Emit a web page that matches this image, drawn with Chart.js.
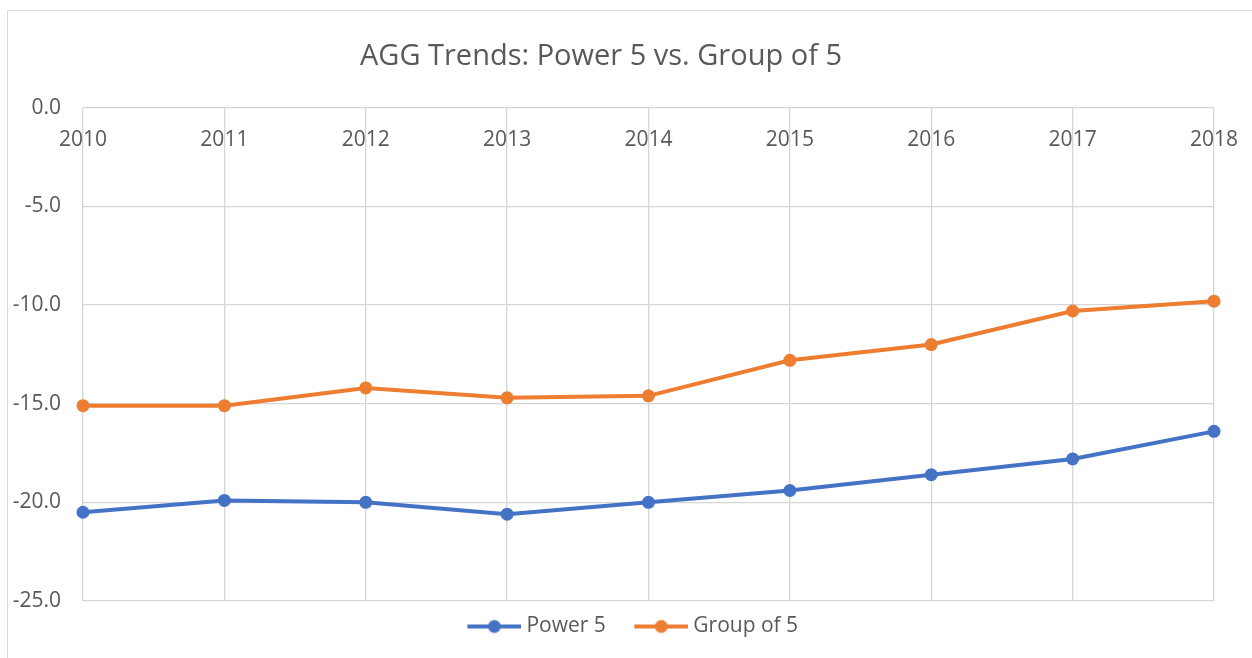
<!DOCTYPE html>
<html>
<head>
<meta charset="utf-8">
<script src="https://cdn.jsdelivr.net/npm/chart.js@4.4.0/dist/chart.umd.min.js"></script>
<style>
  html, body { margin: 0; padding: 0; background: #fff; overflow: hidden; }
  #frame { position: absolute; left: 7px; top: 10px; width: 1300px; height: 700px; border: 1px solid #d9d9d9; }
  #wrap { position: absolute; left: 0; top: 0; width: 1252px; height: 658px; }
</style>
</head>
<body>
<div id="frame"></div>
<div id="wrap"><canvas id="c" width="1252" height="658"></canvas></div>
<script>
const years = ['2010', '2011', '2012', '2013', '2014', '2015', '2016', '2017', '2018'];
const power5 = [-20.5, -19.9, -20.0, -20.6, -20.0, -19.4, -18.6, -17.8, -16.4];
const groupOf5 = [-15.1, -15.1, -14.2, -14.7, -14.6, -12.8, -12.0, -10.3, -9.8];
const seriesNames = ['Power 5', 'Group of 5'];
const yTicks = [0, -5, -10, -15, -20, -25];

const BLUE = '#4472C4';
const ORANGE = '#ED7D31';
const TEXT = '#595959';
const GRID = '#d6d6d6';
const FONT = "'Open Sans', sans-serif";

function legendIcon(color) {
  const cv = document.createElement('canvas');
  cv.width = 73; cv.height = 16;
  const g = cv.getContext('2d');
  g.strokeStyle = color; g.lineWidth = 4; g.lineCap = 'butt';
  g.beginPath(); g.moveTo(19, 8); g.lineTo(73, 8); g.stroke();
  g.fillStyle = color;
  g.beginPath(); g.arc(46, 8, 6.5, 0, Math.PI * 2); g.fill();
  return cv;
}
const icons = [legendIcon(BLUE), legendIcon(ORANGE)];

// The Excel chart object is narrower than the window; centre the title on it.
const titleFrame = {
  id: 'titleFrame',
  afterLayout(chart) {
    const t = chart.titleBlock;
    if (t) { t.right = t.left + 1202; t.width = 1202; }
  }
};

new Chart(document.getElementById('c'), {
  type: 'line',
  data: {
    labels: years,
    datasets: [
      { label: seriesNames[0], data: power5, borderColor: BLUE, backgroundColor: BLUE,
        borderWidth: 4, pointRadius: 6.5, pointHoverRadius: 6.5, pointBackgroundColor: BLUE,
        pointBorderWidth: 0, tension: 0, clip: false, yAxisID: 'y' },
      { label: seriesNames[1], data: groupOf5, borderColor: ORANGE, backgroundColor: ORANGE,
        borderWidth: 4, pointRadius: 6.5, pointHoverRadius: 6.5, pointBackgroundColor: ORANGE,
        pointBorderWidth: 0, tension: 0, clip: false, yAxisID: 'y' }
    ]
  },
  plugins: [titleFrame],
  options: {
    responsive: false,
    animation: false,
    layout: { padding: { left: 0, right: 0, top: 0, bottom: 11 } },
    scales: {
      x: {
        position: { y: 0 },
        offset: false,
        afterFit: (s) => { s.paddingLeft = 0; s.paddingRight = 0; },
        grid: { color: GRID, lineWidth: 1.3, drawTicks: false, offset: false },
        border: { display: false },
        ticks: { color: TEXT, font: { family: FONT, size: 21 }, padding: 20, maxRotation: 0, autoSkip: false }
      },
      y: {
        position: 'left',
        min: -25, max: 0,
        afterBuildTicks: (s) => { s.ticks = yTicks.map(v => ({ value: v })); },
        afterFit: (s) => { s.width = 83; },
        grid: { color: GRID, lineWidth: 1.3, drawTicks: false },
        border: { display: false },
        ticks: { color: TEXT, font: { family: FONT, size: 21 }, padding: 22,
                 callback: (v) => Number(v).toFixed(1) }
      },
      yRight: {
        position: 'right',
        display: true,
        min: -25, max: 0,
        afterFit: (s) => { s.width = 38; },
        grid: { display: false },
        border: { display: false },
        ticks: { display: false }
      }
    },
    plugins: {
      title: {
        display: true,
        text: 'AGG Trends: Power 5 vs. Group of 5',
        color: TEXT,
        font: { family: FONT, size: 29, weight: 'normal', lineHeight: 1.2 },
        padding: { top: 39, bottom: 34 }
      },
      legend: {
        display: true,
        position: 'bottom',
        labels: {
          color: TEXT,
          font: { family: FONT, size: 21 },
          usePointStyle: true,
          pointStyleWidth: 62,
          padding: 15,
          generateLabels: (chart) => chart.data.datasets.map((ds, i) => ({
            text: ds.label, pointStyle: icons[i], fillStyle: ds.borderColor,
            strokeStyle: ds.borderColor, lineWidth: 0, hidden: false, datasetIndex: i,
            fontColor: TEXT
          }))
        }
      },
      tooltip: { enabled: false }
    }
  }
});
</script>
</body>
</html>
